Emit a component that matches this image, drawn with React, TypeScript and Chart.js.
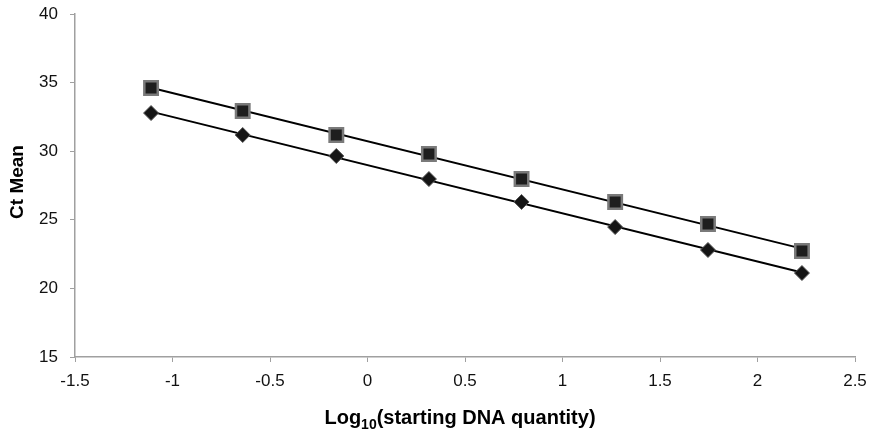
import React, { useEffect, useRef } from "react";
import { Chart, registerables } from "chart.js";

Chart.register(...registerables);

const logQuantity = [-1.11, -0.64, -0.16, 0.315, 0.79, 1.27, 1.746, 2.228];
const ctSeriesA = [34.6, 32.93, 31.18, 29.8, 27.97, 26.3, 24.7, 22.73];
const ctSeriesB = [32.78, 31.18, 29.65, 27.97, 26.3, 24.47, 22.8, 21.12];
const yTicks = [15, 20, 25, 30, 35, 40];
const xTicks = [-1.5, -1, -0.5, 0, 0.5, 1, 1.5, 2, 2.5];
const yTitle = "Ct Mean";
const xTitleParts = ["Log", "10", "(starting DNA quantity)"];

function fitLine(xs: number[], ys: number[]) {
  const n = xs.length;
  const mx = xs.reduce((a, b) => a + b, 0) / n;
  const my = ys.reduce((a, b) => a + b, 0) / n;
  let sxy = 0, sxx = 0;
  for (let i = 0; i < n; i++) {
    sxy += (xs[i] - mx) * (ys[i] - my);
    sxx += (xs[i] - mx) * (xs[i] - mx);
  }
  const m = sxy / sxx;
  const b = my - m * mx;
  const x0 = xs[0], x1 = xs[n - 1];
  return [{ x: x0, y: m * x0 + b }, { x: x1, y: m * x1 + b }];
}

const FONT = "'Liberation Sans', Arial, sans-serif";

const titlesPlugin = {
  id: "titles",
  afterDraw(chart: any) {
    const ctx = chart.ctx;
    ctx.save();
    ctx.fillStyle = "#000";
    ctx.font = `bold 19px ${FONT}`;
    ctx.translate(18, 182);
    ctx.rotate(-Math.PI / 2);
    ctx.textAlign = "center";
    ctx.textBaseline = "middle";
    ctx.fillText(yTitle, 0, 0);
    ctx.restore();

    ctx.save();
    ctx.fillStyle = "#000";
    ctx.textBaseline = "alphabetic";
    ctx.textAlign = "left";
    const big = `bold 20px ${FONT}`;
    const small = `bold 14px ${FONT}`;
    ctx.font = big;
    const w0 = ctx.measureText(xTitleParts[0]).width;
    const w2 = ctx.measureText(xTitleParts[2]).width;
    ctx.font = small;
    const w1 = ctx.measureText(xTitleParts[1]).width;
    const total = w0 + w1 + w2;
    let x = 460 - total / 2;
    const base = 424;
    ctx.font = big;
    ctx.fillText(xTitleParts[0], x, base);
    x += w0;
    ctx.font = small;
    ctx.fillText(xTitleParts[1], x, base + 5);
    x += w1;
    ctx.font = big;
    ctx.fillText(xTitleParts[2], x, base);
    ctx.restore();
  },
};

export default function App() {
  const ref = useRef<HTMLCanvasElement | null>(null);
  useEffect(() => {
    document.body.style.margin = "0";
    const canvas = ref.current!;
    const ptsA = logQuantity.map((x, i) => ({ x, y: ctSeriesA[i] }));
    const ptsB = logQuantity.map((x, i) => ({ x, y: ctSeriesB[i] }));
    const chart = new Chart(canvas, {
      type: "scatter",
      data: {
        datasets: [
          {
            label: "trendA",
            data: fitLine(logQuantity, ctSeriesA),
            showLine: true,
            borderColor: "#000",
            borderWidth: 2,
            pointRadius: 0,
            order: 3,
          },
          {
            label: "trendB",
            data: fitLine(logQuantity, ctSeriesB),
            showLine: true,
            borderColor: "#000",
            borderWidth: 2,
            pointRadius: 0,
            order: 3,
          },
          {
            label: "A",
            data: ptsA,
            pointStyle: "rect",
            pointRadius: 9.5,
            backgroundColor: "#1e1e1e",
            borderColor: "#7a7a7a",
            borderWidth: 2.5,
            order: 1,
          },
          {
            label: "B",
            data: ptsB,
            pointStyle: "rectRot",
            pointRadius: 7.5,
            backgroundColor: "#151515",
            borderColor: "#555",
            borderWidth: 1,
            order: 1,
          },
        ],
      },
      options: {
        animation: false,
        responsive: false,
        maintainAspectRatio: false,
        layout: { padding: { top: 14, right: 17, left: 0, bottom: 0 } },
        plugins: {
          legend: { display: false },
          tooltip: { enabled: false },
        },
        scales: {
          x: {
            type: "linear",
            min: -1.5,
            max: 2.5,
            afterBuildTicks: (s: any) => {
              s.ticks = xTicks.map((v) => ({ value: v }));
            },
            afterFit: (s: any) => {
              s.height = 79;
              s.paddingLeft = 0;
              s.paddingRight = 0;
            },
            ticks: {
              color: "#111",
              font: { family: FONT, size: 17 },
              padding: 9,
              maxRotation: 0,
              callback: (v: any) => String(v),
            },
            grid: {
              drawOnChartArea: false,
              drawTicks: true,
              tickLength: 5,
              color: "#a0a0a0",
            },
            border: { color: "#a0a0a0", width: 1.5 },
          },
          y: {
            type: "linear",
            min: 15,
            max: 40,
            afterBuildTicks: (s: any) => {
              s.ticks = yTicks.map((v) => ({ value: v }));
            },
            afterFit: (s: any) => {
              s.width = 75;
              s.paddingTop = 0;
              s.paddingBottom = 0;
            },
            ticks: {
              color: "#111",
              font: { family: FONT, size: 17 },
              padding: 12,
              callback: (v: any) => String(v),
            },
            grid: {
              drawOnChartArea: false,
              drawTicks: true,
              tickLength: 5,
              color: "#a0a0a0",
            },
            border: { color: "#a0a0a0", width: 1.5 },
          },
        },
      },
      plugins: [titlesPlugin],
    });
    return () => chart.destroy();
  }, []);
  return (
    <div style={{ width: 872, height: 436, position: "relative", background: "#fff" }}>
      <canvas ref={ref} width={872} height={436} style={{ display: "block" }} />
    </div>
  );
}
